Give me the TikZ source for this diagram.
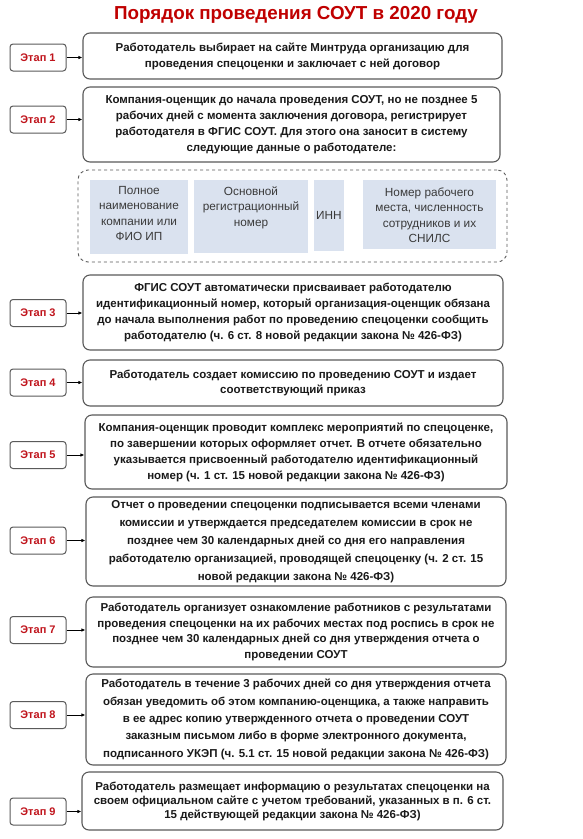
\documentclass[tikz,border=0pt]{standalone}
\usepackage{fontspec}
\setmainfont{Liberation Sans}
\usetikzlibrary{arrows.meta,calc}
\definecolor{titlered}{HTML}{C00000}
\definecolor{stagered}{HTML}{C0141C}
\definecolor{boxline}{HTML}{5A5A5A}
\definecolor{infofill}{HTML}{DAE2EF}
\definecolor{infotext}{HTML}{3A3A3A}
\definecolor{maintext}{HTML}{1A1A1A}
\newcommand{\ls}[1]{\fontsize{11.5}{#1}\selectfont}
\begin{document}
\begin{tikzpicture}[x=1pt,y=-1pt,
 mainbox/.style={draw=boxline, line width=1.1pt, rounded corners=7pt, fill=white, align=center, text=maintext, font=\bfseries\fontsize{11.5}{16}\selectfont, inner sep=0pt},
 stagebox/.style={draw=boxline, line width=1pt, rounded corners=3pt, fill=white, minimum width=56pt, minimum height=27pt, text=stagered, font=\bfseries\fontsize{11}{13}\selectfont, inner sep=0pt},
 arr/.style={-{Latex[length=4pt,width=3.5pt]}, line width=0.8pt, black},
 dashbox/.style={draw=boxline, dashed, line width=0.9pt, rounded corners=10pt, fill=white},
 infobox/.style={fill=infofill, inner sep=0pt},
 infolabel/.style={text=infotext, align=center, font=\fontsize{11.8}{15.5}\selectfont, inner sep=0pt},
 titlestyle/.style={text=titlered, font=\bfseries\fontsize{18.8}{21}\selectfont, inner sep=0pt}]
\useasboundingbox (0,0) rectangle (582,839);
\fill[white] (0,0) rectangle (582,839);

\node[titlestyle] (title) at (296,15) {Порядок проведения СОУТ в 2020 году};

% main boxes
\node[mainbox, minimum width=419pt, minimum height=46pt] (b1) at (292.5,56)
 {Работодатель выбирает на сайте Минтруда организацию для\\проведения спецоценки и заключает с ней договор};
\node[mainbox, minimum width=417pt, minimum height=75pt] (b2) at (291.5,124.5)
 {Компания-оценщик до начала проведения СОУТ, но не позднее 5\\рабочих дней с момента заключения договора, регистрирует\\работодателя в ФГИС СОУТ. Для этого она заносит в систему\\следующие данные о работодателе:};
\node[dashbox, minimum width=429pt, minimum height=92pt] (dash) at (292.5,216) {};
\node[mainbox, minimum width=420pt, minimum height=75pt] (b3) at (293,312.5)
 {ФГИС СОУТ автоматически присваивает работодателю\\идентификационный номер, который организация-оценщик обязана\\до начала выполнения работ по проведению спецоценки сообщить\\работодателю (ч. 6 ст. 8 новой редакции закона № 426-ФЗ)};
\node[mainbox, minimum width=420pt, minimum height=46pt, font=\bfseries\ls{14.5}] (b4) at (293,383)
 {Работодатель создает комиссию по проведению СОУТ и издает\\соответствующий приказ};
\node[mainbox, minimum width=422pt, minimum height=74pt] (b5) at (296,452)
 {Компания-оценщик проводит комплекс мероприятий по спецоценке,\\по завершении которых оформляет отчет. В отчете обязательно\\указывается присвоенный работодателю идентификационный\\номер (ч. 1 ст. 15 новой редакции закона № 426-ФЗ)};
\node[mainbox, minimum width=420pt, minimum height=89pt, font=\bfseries\ls{18}] (b6) at (296,541.5)
 {Отчет о проведении спецоценки подписывается всеми членами\\комиссии и утверждается председателем комиссии в срок не\\позднее чем 30 календарных дней со дня его направления\\работодателю организацией, проводящей спецоценку (ч. 2 ст. 15\\новой редакции закона № 426-ФЗ)};
\node[mainbox, minimum width=420pt, minimum height=70pt, font=\bfseries\ls{15.5}] (b7) at (296,632)
 {Работодатель организует ознакомление работников с результатами\\проведения спецоценки на их рабочих местах под роспись в срок не\\позднее чем 30 календарных дней со дня утверждения отчета о\\проведении СОУТ};
\node[mainbox, minimum width=420pt, minimum height=91pt, font=\bfseries\ls{17.3}] (b8) at (296,719.5)
 {Работодатель в течение 3 рабочих дней со дня утверждения отчета\\обязан уведомить об этом компанию-оценщика, а также направить\\в ее адрес копию утвержденного отчета о проведении СОУТ\\заказным письмом либо в форме электронного документа,\\подписанного УКЭП (ч. 5.1 ст. 15 новой редакции закона № 426-ФЗ)};
\node[mainbox, minimum width=421pt, minimum height=58pt, font=\bfseries\ls{14}] (b9) at (292.5,801)
 {Работодатель размещает информацию о результатах спецоценки на\\своем официальном сайте с учетом требований, указанных в п. 6 ст.\\15 действующей редакции закона № 426-ФЗ)};

% info boxes
\node[infobox, minimum width=98pt, minimum height=74pt] (ia) at (139,217) {};
\node[infobox, minimum width=114pt, minimum height=73pt] (ib) at (251,216.5) {};
\node[infobox, minimum width=30pt, minimum height=71pt] (ic) at (329,215.5) {};
\node[infobox, minimum width=133pt, minimum height=69pt] (id) at (429.5,214.5) {};
\node[infolabel] (ta) at (139,213.5) {Полное\\наименование\\компании или\\ФИО ИП};
\node[infolabel] (tb) at (251,207.5) {Основной\\регистрационный\\номер};
\node[infolabel] (tc) at (329,215.5) {ИНН};
\node[infolabel] (td) at (429.5,215) {Номер рабочего\\места, численность\\сотрудников и их\\СНИЛС};

% stage boxes
\foreach \i/\y in {1/57.5,2/119.5,3/313,4/382.5,5/455,6/540.5,7/630,8/715,9/811.5}{
  \node[stagebox] (s\i) at (38,\y) {Этап \i};
}
\foreach \i in {1,...,9}{
  \draw[arr] (s\i.east) -- (s\i.east -| b\i.west);
}
\end{tikzpicture}
\end{document}
